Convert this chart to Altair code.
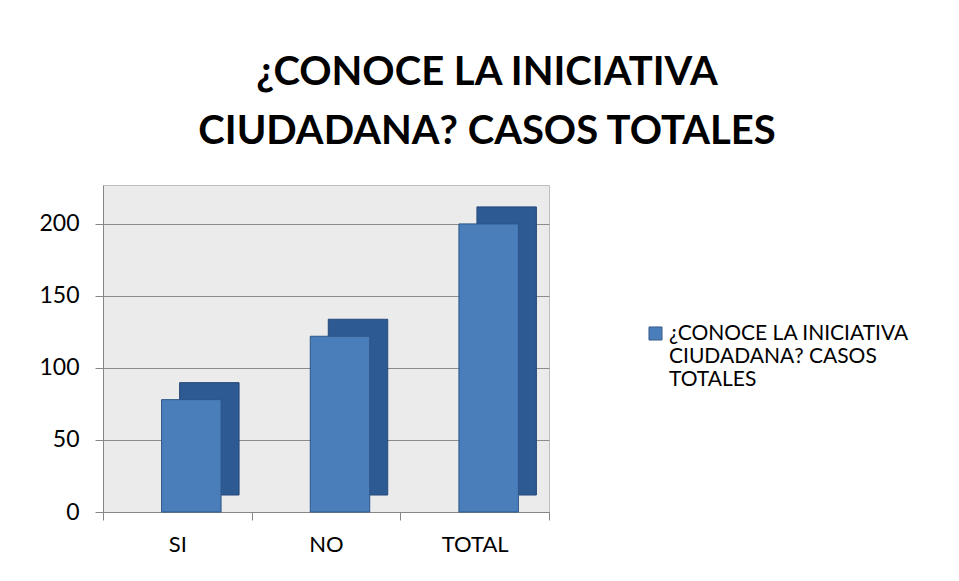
import altair as alt
import pandas as pd

categories = ["SI", "NO", "TOTAL"]
values = [78, 122, 200]
series_name = "¿CONOCE LA INICIATIVA CIUDADANA? CASOS TOTALES"
y_ticks = [0, 50, 100, 150, 200]

df = pd.DataFrame({"cat": categories, "val": values, "serie": [series_name] * 3})

x_enc = alt.X("cat:N", sort=categories, title=None,
              scale=alt.Scale(paddingInner=0, paddingOuter=0),
              axis=alt.Axis(labelAngle=0, labelFont="Lato", labelFontSize=22, labelColor="#000000",
                            labelPadding=14, domainColor="#868686", tickColor="#868686",
                            tickSize=8, tickBand="extent", grid=False))
y_enc = alt.Y("val:Q", title=None,
              scale=alt.Scale(domain=[0, 227], nice=False),
              axis=alt.Axis(values=y_ticks, labelFont="Lato", labelFontSize=23, labelColor="#000000",
                            labelPadding=16, domainColor="#868686", tickColor="#868686", tickSize=8,
                            grid=True, gridColor="#8c8c8c", gridWidth=1.2))

bar_w = alt.RelativeBandSize(0.4)
side = alt.Chart(df).mark_bar(color="#2D5A92", width=bar_w, xOffset=32, yOffset=-17,
                              stroke="#24497a", strokeWidth=1).encode(x=x_enc, y=y_enc)
front = alt.Chart(df).mark_bar(stroke="#2C5687", strokeWidth=1, width=bar_w, xOffset=14).encode(
    x=x_enc, y=y_enc,
    color=alt.Color("serie:N", title=None,
                    scale=alt.Scale(range=["#4A7EBB"]),
                    legend=alt.Legend(orient="none", legendX=542, legendY=138,
                                      symbolType="square", symbolSize=170,
                                      symbolStrokeColor="#385D8A", symbolStrokeWidth=1,
                                      labelFont="Lato", labelFontSize=21, labelColor="#000000",
                                      labelLimit=400, labelOffset=3,
                                      labelExpr="['¿CONOCE LA INICIATIVA', 'CIUDADANA? CASOS', 'TOTALES']")))

chart = alt.layer(side, front).properties(
    width=446, height=327,
    padding={"left": 95, "top": 177, "right": 402, "bottom": 53},
    autosize=alt.AutoSizeParams(type="none"),
    background="#ffffff",
    title=alt.Title(["¿CONOCE LA INICIATIVA", "CIUDADANA? CASOS TOTALES"],
                    font="Lato", fontSize=40, fontWeight="bold", color="#000000",
                    anchor="middle", dx=161, lineHeight=59, offset=33),
).configure_view(fill="#EBEBEB", stroke="#bdbdbd")

chart.save("out.html", embed_options={"renderer": "svg", "actions": False})
